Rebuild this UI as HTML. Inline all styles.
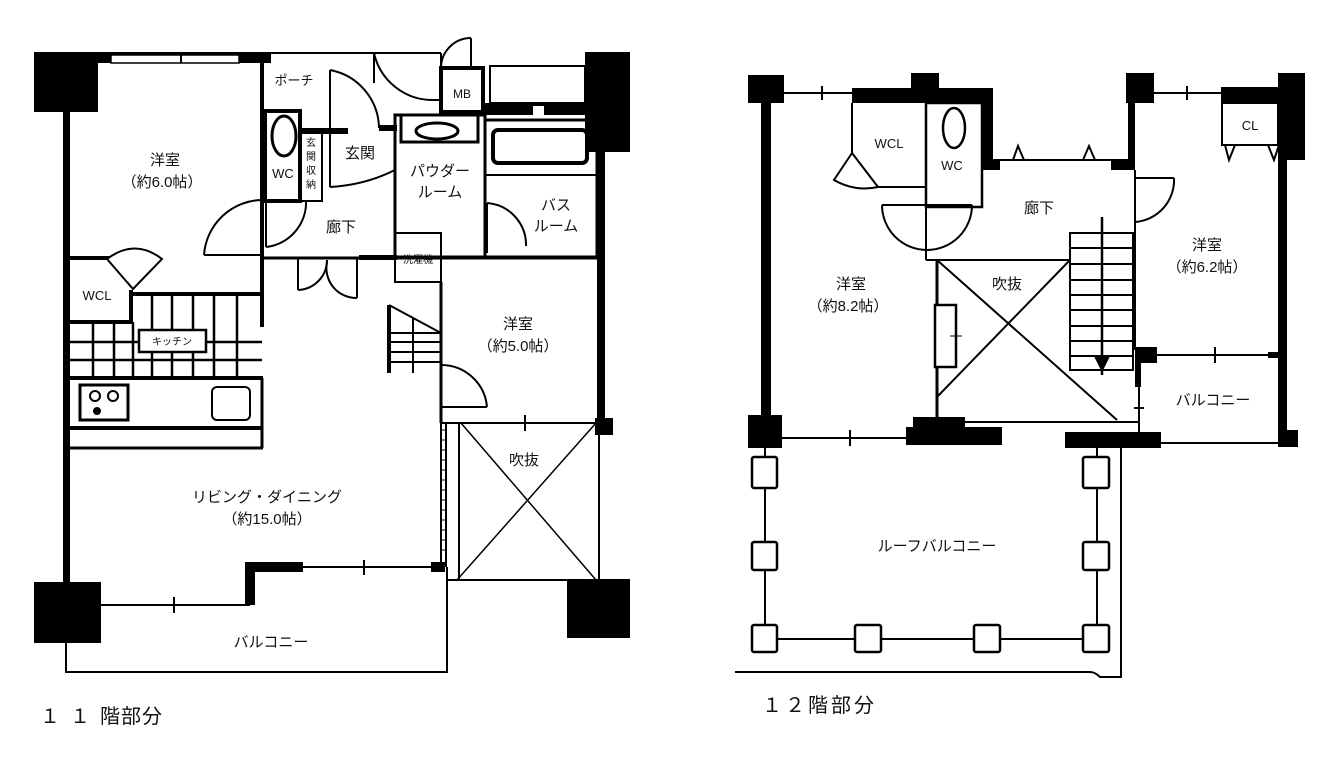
<!DOCTYPE html>
<html><head><meta charset="utf-8"><style>
html,body{margin:0;padding:0;background:#fff;}
svg{display:block;}
text{font-family:"Liberation Sans","Noto Sans CJK JP",sans-serif;fill:#111;}
</style></head><body>
<svg width="1330" height="759" viewBox="0 0 1330 759" xmlns="http://www.w3.org/2000/svg">
<g stroke="#000" fill="none" stroke-width="2">
<rect x="34" y="52" width="64" height="60" fill="#000" stroke="none"/>
<rect x="98" y="52" width="173" height="11" fill="#000" stroke="none"/>
<rect x="111" y="55" width="128" height="8" fill="#fff" stroke="#000" stroke-width="1.5"/>
<line x1="181" y1="55" x2="181" y2="63"/>
<rect x="63" y="112" width="7" height="474" fill="#000" stroke="none"/>
<rect x="260" y="52" width="4" height="275" fill="#000" stroke="none"/>
<line x1="264" y1="53" x2="441" y2="53"/>
<line x1="374" y1="53" x2="374" y2="83"/>
<path d="M374 53 A60 60 0 0 0 434 100"/>
<line x1="434" y1="100" x2="441" y2="100"/>
<line x1="471" y1="38" x2="471" y2="68"/>
<path d="M471 38 A30 30 0 0 0 441 68"/>
<line x1="441" y1="53" x2="441" y2="68"/>
<rect x="441" y="68" width="42" height="44" stroke-width="4"/>
<rect x="490" y="66" width="95" height="37" stroke-width="2"/>
<rect x="483" y="103" width="102" height="12" fill="#000" stroke="none"/>
<rect x="533" y="106" width="11" height="9" fill="#fff" stroke="none"/>
<rect x="585" y="52" width="45" height="100" fill="#000" stroke="none"/>
<rect x="597" y="152" width="8" height="268" fill="#000" stroke="none"/>
<rect x="265" y="111" width="35" height="90" stroke-width="4"/>
<ellipse cx="284" cy="136" rx="12" ry="20" stroke-width="3"/>
<rect x="300" y="130" width="22" height="71" stroke-width="2"/>
<rect x="300" y="128" width="48" height="6" fill="#000" stroke="none"/>
<line x1="322" y1="134" x2="322" y2="201"/>
<line x1="330" y1="130" x2="330" y2="187"/>
<line x1="330" y1="70" x2="330" y2="130"/>
<path d="M330 70 A60 60 0 0 1 379 128"/>
<path d="M330 187 Q365 185 395 170"/>
<rect x="379" y="125" width="18" height="6" fill="#000" stroke="none"/>
<rect x="395" y="115" width="90" height="142" stroke-width="3"/>
<rect x="401" y="115" width="77" height="27" stroke-width="3"/>
<ellipse cx="437" cy="131" rx="21" ry="8" stroke-width="3"/>
<rect x="395" y="233" width="46" height="49" stroke-width="2"/>
<rect x="485" y="120" width="112" height="137" stroke-width="3"/>
<rect x="493" y="130" width="94" height="33" rx="5" stroke-width="4"/>
<line x1="485" y1="175" x2="597" y2="175"/>
<line x1="487" y1="203" x2="487" y2="253"/>
<path d="M487 203 A42 42 0 0 1 526 246"/>
<line x1="263" y1="258" x2="597" y2="258" stroke-width="3"/>
<rect x="359" y="255" width="38" height="5" fill="#000" stroke="none"/>
<line x1="266" y1="200" x2="266" y2="247"/>
<path d="M266 247 A45 45 0 0 0 306 200"/>
<line x1="204" y1="255" x2="263" y2="255"/>
<path d="M204 255 A59 59 0 0 1 263 200"/>
<line x1="298" y1="258" x2="298" y2="290"/>
<line x1="357" y1="258" x2="357" y2="298"/>
<path d="M298 290 A30 30 0 0 0 327 260"/>
<path d="M357 298 A30 30 0 0 1 327 262"/>
<line x1="441" y1="282" x2="441" y2="423" stroke-width="3"/>
<line x1="441" y1="407" x2="487" y2="407"/>
<path d="M441 365 A46 46 0 0 1 487 407"/>
<line x1="389" y1="305" x2="389" y2="373" stroke-width="4"/>
<line x1="389" y1="305" x2="441" y2="333"/>
<line x1="389" y1="333" x2="441" y2="333"/>
<line x1="389" y1="342" x2="441" y2="342"/>
<line x1="389" y1="352" x2="441" y2="352"/>
<line x1="389" y1="362" x2="441" y2="362"/>
<line x1="413" y1="318" x2="413" y2="373"/>
<line x1="70" y1="258" x2="110" y2="258" stroke-width="4"/>
<line x1="131" y1="290" x2="131" y2="322" stroke-width="4"/>
<line x1="70" y1="322" x2="133" y2="322" stroke-width="4"/>
<path d="M107 259 L133 289 L162 259 Q135 238 107 259 Z" fill="#fff"/>
<line x1="131" y1="294" x2="263" y2="294" stroke-width="4"/>
<g stroke-width="2.5">
<line x1="152" y1="294" x2="152" y2="377"/><line x1="172" y1="294" x2="172" y2="377"/>
<line x1="193" y1="294" x2="193" y2="377"/><line x1="214" y1="294" x2="214" y2="377"/>
<line x1="237" y1="294" x2="237" y2="377"/>
<line x1="93" y1="322" x2="93" y2="377"/><line x1="114" y1="322" x2="114" y2="377"/>
<line x1="133" y1="322" x2="133" y2="377"/>
<line x1="70" y1="342" x2="262" y2="342"/><line x1="70" y1="360" x2="262" y2="360"/>
</g>
<rect x="139" y="330" width="67" height="22" fill="#fff" stroke-width="2.5"/>
<line x1="70" y1="378" x2="263" y2="378" stroke-width="4"/>
<line x1="70" y1="428" x2="263" y2="428" stroke-width="4"/>
<line x1="70" y1="448" x2="263" y2="448" stroke-width="3"/>
<line x1="262" y1="378" x2="262" y2="448" stroke-width="3"/>
<rect x="80" y="385" width="48" height="35" stroke-width="3"/>
<circle cx="95" cy="396" r="5"/><circle cx="113" cy="396" r="5"/>
<circle cx="97" cy="411" r="3" fill="#000"/>
<rect x="212" y="387" width="38" height="33" rx="5" stroke-width="2"/>
<line x1="441" y1="423" x2="441" y2="567"/><line x1="446" y1="423" x2="446" y2="567"/>
<path d="M441 430h5M441 440h5M441 450h5M441 460h5M441 470h5M441 480h5M441 490h5M441 500h5M441 510h5M441 520h5M441 530h5M441 540h5M441 550h5" stroke-width="1"/>
<line x1="441" y1="423" x2="599" y2="423"/>
<line x1="525" y1="415" x2="525" y2="431"/>
<line x1="459" y1="423" x2="459" y2="580"/>
<line x1="599" y1="423" x2="599" y2="580"/>
<line x1="447" y1="580" x2="599" y2="580"/>
<line x1="461" y1="423" x2="596" y2="580" stroke-width="1.5"/>
<line x1="596" y1="423" x2="457" y2="580" stroke-width="1.5"/>
<rect x="595" y="418" width="18" height="17" fill="#000" stroke="none"/>
<rect x="567" y="579" width="63" height="59" fill="#000" stroke="none"/>
<rect x="34" y="582" width="67" height="61" fill="#000" stroke="none"/>
<line x1="101" y1="605" x2="250" y2="605"/>
<line x1="174" y1="597" x2="174" y2="613"/>
<rect x="245" y="562" width="10" height="43" fill="#000" stroke="none"/>
<rect x="245" y="562" width="58" height="10" fill="#000" stroke="none"/>
<line x1="303" y1="567" x2="431" y2="567"/>
<line x1="364" y1="560" x2="364" y2="575"/>
<rect x="431" y="562" width="14" height="10" fill="#000" stroke="none"/>
<polyline points="66,643 66,672 447,672 447,567"/>

<rect x="748" y="75" width="36" height="28" fill="#000" stroke="none"/>
<rect x="761" y="103" width="10" height="314" fill="#000" stroke="none"/>
<rect x="748" y="415" width="34" height="33" fill="#000" stroke="none"/>
<line x1="784" y1="93" x2="852" y2="93"/>
<line x1="822" y1="86" x2="822" y2="100"/>
<rect x="852" y="88" width="141" height="15" fill="#000" stroke="none"/>
<rect x="911" y="73" width="28" height="16" fill="#000" stroke="none"/>
<rect x="982" y="88" width="11" height="82" fill="#000" stroke="none"/>
<line x1="852" y1="103" x2="852" y2="153"/>
<line x1="878" y1="187" x2="926" y2="187"/>
<path d="M852 153 L834 180 Q855 192 878 187 Z"/>
<rect x="926" y="103" width="56" height="104" stroke-width="2.5"/>
<ellipse cx="954" cy="128" rx="11" ry="20" stroke-width="2.5"/>
<line x1="993" y1="160" x2="1130" y2="160"/>
<path d="M1013 160 L1018 146 L1024 160 M1083 160 L1089 146 L1095 160"/>
<rect x="982" y="160" width="18" height="10" fill="#000" stroke="none"/>
<rect x="1111" y="160" width="24" height="10" fill="#000" stroke="none"/>
<rect x="1126" y="73" width="28" height="30" fill="#000" stroke="none"/>
<rect x="1128" y="73" width="7" height="97" fill="#000" stroke="none"/>
<line x1="1135" y1="170" x2="1135" y2="350"/>
<line x1="1154" y1="93" x2="1222" y2="93"/>
<line x1="1187" y1="86" x2="1187" y2="100"/>
<rect x="1222" y="88" width="56" height="57" stroke-width="2"/>
<rect x="1222" y="88" width="56" height="16" fill="#000" stroke="none"/>
<path d="M1225 145 L1229 160 L1235 145 M1268 145 L1274 160 L1279 145"/>
<rect x="1278" y="73" width="27" height="87" fill="#000" stroke="none"/>
<rect x="1278" y="160" width="9" height="273" fill="#000" stroke="none"/>
<rect x="1278" y="430" width="20" height="17" fill="#000" stroke="none"/>
<line x1="1135" y1="178" x2="1174" y2="178"/>
<path d="M1174 178 A42 42 0 0 1 1135 222"/>
<rect x="1135" y="347" width="22" height="16" fill="#000" stroke="none"/>
<line x1="1157" y1="355" x2="1268" y2="355"/>
<line x1="1215" y1="347" x2="1215" y2="363"/>
<rect x="1268" y="352" width="11" height="6" fill="#000" stroke="none"/>
<rect x="1135" y="363" width="6" height="24" fill="#000" stroke="none"/>
<line x1="1139" y1="387" x2="1139" y2="432"/>
<line x1="1134" y1="408" x2="1144" y2="408"/>
<line x1="926" y1="207" x2="926" y2="260"/>
<line x1="882" y1="205" x2="972" y2="205"/>
<path d="M882 205 A45 45 0 0 0 972 205"/>
<line x1="926" y1="260" x2="1070" y2="260"/>
<line x1="937" y1="260" x2="937" y2="417" stroke-width="3"/>
<line x1="937" y1="260" x2="1117" y2="420"/>
<line x1="1070" y1="260" x2="937" y2="397"/>
<line x1="963" y1="422" x2="1139" y2="422"/>
<rect x="935" y="305" width="21" height="62" fill="#fff" stroke-width="2.5"/>
<line x1="950" y1="336" x2="962" y2="336" stroke-width="1"/>
<g stroke-width="2">
<rect x="1070" y="233" width="63" height="137"/>
<path d="M1070 248h63M1070 264h63M1070 280h63M1070 295h63M1070 310h63M1070 326h63M1070 341h63M1070 356h63"/>
</g>
<line x1="1102" y1="217" x2="1102" y2="375" stroke-width="2.5"/>
<path d="M1096 358 L1108 358 L1102 370 Z" fill="#000"/>
<rect x="913" y="417" width="52" height="11" fill="#000" stroke="none"/>
<rect x="906" y="427" width="96" height="18" fill="#000" stroke="none"/>
<line x1="782" y1="438" x2="906" y2="438"/>
<line x1="850" y1="430" x2="850" y2="446"/>
<rect x="1065" y="432" width="96" height="16" fill="#000" stroke="none"/>
<line x1="1161" y1="443" x2="1278" y2="443"/>
<line x1="765" y1="448" x2="765" y2="639"/>
<line x1="1097" y1="448" x2="1097" y2="639"/>
<line x1="765" y1="639" x2="1097" y2="639"/>
<g fill="#fff" stroke-width="2.5">
<rect x="752" y="457" width="25" height="31" rx="2"/>
<rect x="752" y="542" width="25" height="28" rx="2"/>
<rect x="752" y="625" width="25" height="27" rx="2"/>
<rect x="1083" y="457" width="26" height="31" rx="2"/>
<rect x="1083" y="542" width="26" height="28" rx="2"/>
<rect x="1083" y="625" width="26" height="27" rx="2"/>
<rect x="855" y="625" width="26" height="27" rx="2"/>
<rect x="974" y="625" width="26" height="27" rx="2"/>
</g>
<path d="M1121 445 L1121 677 L1100 677 Q1095 672 1090 672 L735 672"/>
</g>

<g font-size="15" text-anchor="middle">
<text x="294" y="85" font-size="13">ポーチ</text>
<text x="165" y="165">洋室</text>
<text x="162" y="187">（約6.0帖）</text>
<text x="283" y="178" font-size="13">WC</text>
<text x="311" y="146" font-size="10">玄</text>
<text x="311" y="160" font-size="10">関</text>
<text x="311" y="174" font-size="10">収</text>
<text x="311" y="188" font-size="10">納</text>
<text x="360" y="158">玄関</text>
<text x="462" y="98" font-size="12">MB</text>
<text x="440" y="176">パウダー</text>
<text x="440" y="197">ルーム</text>
<text x="556" y="210">バス</text>
<text x="556" y="231">ルーム</text>
<text x="341" y="232">廊下</text>
<text x="418" y="263" font-size="10">洗濯機</text>
<text x="97" y="300" font-size="13">WCL</text>
<text x="172" y="345" font-size="10">キッチン</text>
<text x="518" y="329">洋室</text>
<text x="518" y="351">（約5.0帖）</text>
<text x="267" y="502">リビング・ダイニング</text>
<text x="267" y="524">（約15.0帖）</text>
<text x="524" y="465">吹抜</text>
<text x="271" y="647">バルコニー</text>
<text x="889" y="148" font-size="13">WCL</text>
<text x="952" y="170" font-size="13">WC</text>
<text x="1250" y="130" font-size="13">CL</text>
<text x="1039" y="213">廊下</text>
<text x="1007" y="289">吹抜</text>
<text x="851" y="289">洋室</text>
<text x="848" y="311">（約8.2帖）</text>
<text x="1207" y="250">洋室</text>
<text x="1207" y="272">（約6.2帖）</text>
<text x="1213" y="405">バルコニー</text>
<text x="937" y="551">ルーフバルコニー</text>
</g>
<text x="40" y="723" font-size="20" letter-spacing="10">１１<tspan letter-spacing="1">階部分</tspan></text>
<text x="762" y="712" font-size="20" letter-spacing="3">１２階部分</text>
</svg>
</body></html>
